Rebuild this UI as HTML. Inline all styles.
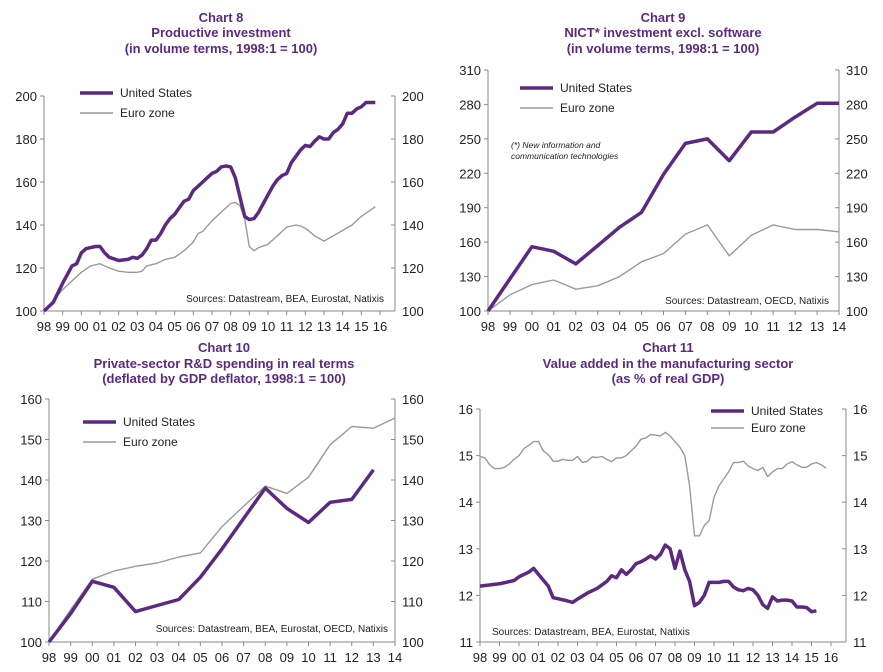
<!DOCTYPE html>
<html><head><meta charset="utf-8"><style>
body{margin:0;background:#fff;}
svg{display:block;font-family:"Liberation Sans",Arial,sans-serif;}
.t{fill:#5b2a80;font-weight:bold;font-size:13px;text-anchor:middle;}
.tk{fill:#222;font-size:13px;}
.lg{fill:#222;font-size:12px;}
.src{fill:#222;font-size:10px;}
</style></head><body>
<svg id="s" width="883" height="672" viewBox="0 0 883 672">
<g><text class="t" x="221" y="22">Chart 8</text><text class="t" x="221" y="37">Productive investment</text><text class="t" x="221" y="53">(in volume terms, 1998:1 = 100)</text></g>
<g><text class="t" x="663" y="22">Chart 9</text><text class="t" x="663" y="37">NICT* investment excl. software</text><text class="t" x="663" y="53">(in volume terms, 1998:1 = 100)</text></g>
<g><text class="t" x="224" y="352">Chart 10</text><text class="t" x="224" y="368">Private-sector R&amp;D spending in real terms</text><text class="t" x="224" y="383">(deflated by GDP deflator, 1998:1 = 100)</text></g>
<g><text class="t" x="668" y="352">Chart 11</text><text class="t" x="668" y="368">Value added in the manufacturing sector</text><text class="t" x="668" y="383">(as % of real GDP)</text></g>
<text class="src" x="384" y="302" text-anchor="end">Sources: Datastream, BEA, Eurostat, Natixis</text>
<text class="src" x="829" y="304" text-anchor="end">Sources: Datastream, OECD, Natixis</text>
<text class="src" x="388" y="632" text-anchor="end">Sources: Datastream, BEA, Eurostat, OECD, Natixis</text>
<text class="src" x="492" y="635">Sources: Datastream, BEA, Eurostat, Natixis</text>
<g style="font-size:8.5px;font-style:italic;fill:#222"><text x="511" y="148">(*) New information and</text><text x="511" y="159">communication technologies</text></g>
</svg>
<script>
const c8Years=[98,98.5,99,99.5,99.75,100,100.25,100.5,100.75,101,101.25,101.5,102,102.5,102.75,103,103.25,103.5,103.75,104,104.25,104.5,104.75,105,105.25,105.5,105.75,106,106.25,106.5,106.75,107,107.25,107.5,107.75,108,108.25,108.5,108.75,109,109.25,109.5,109.75,110,110.25,110.5,110.75,111,111.25,111.5,111.75,112,112.25,112.5,112.75,113,113.25,113.5,113.75,114,114.25,114.5,114.75,115,115.25,115.5,115.75];
const c8US=[100,104,113,121,122,127,129,129.5,130,130,127,125,123.5,124,125,124.5,126,129,133,133,136,140,143,145,148,151,152,156,158,160,162,164,165,167,167.5,167,162,153,144,142.5,143,146,150,154,158,161,163,164,169,172,175,177,176.5,179,181,180,180,183,184.5,187,192,192,194,195,197,197,197];
const c8EZYears=[98,98.5,99,99.5,100,100.5,101,101.5,102,102.5,103,103.25,103.5,104,104.5,105,105.5,106,106.25,106.5,107,107.5,108,108.25,108.5,108.75,109,109.25,109.5,110,110.5,111,111.5,111.75,112,112.5,113,113.5,114,114.5,115,115.5,115.75];
const c8EZ=[100,105,110,114,118,121,122,120,118.5,118,118,118.5,121,122,124,125,128,132,136,137,142,146,150,150.5,149,143,130,128,129.5,131,135,139,140,139.5,138.5,135,132.5,135,137.5,140,144,147,148.5];
const c8Ticks=[100,120,140,160,180,200];
const c9Years=[98,99,100,101,102,103,104,105,106,107,108,109,110,111,112,113,114];
const c9US=[100,128,156,152,141,157,173,186,219,246,250,231,256,256,269,281,281];
const c9EZ=[100,114,123,127,119,122,130,143,150,167,175,148,166,175,171,171,169];
const c9Ticks=[100,130,160,190,220,250,280,310];
const c10USYears=[98,99,100,101,102,103,104,105,106,107,108,109,110,111,112,113];
const c10US=[100,107,115,113.5,107.5,109,110.5,116,123,130.5,138,133,129.5,134.5,135.2,142.5];
const c10EZYears=[98,99,100,101,102,103,104,105,106,107,108,109,110,111,112,113,114];
const c10EZ=[100,108,115.5,117.5,118.7,119.5,121,122,128.5,133.5,138.5,136.7,140.7,148.7,153.2,152.8,155.3];
const c10Ticks=[100,110,120,130,140,150,160];
const c11USYears=[98,99,99.75,100,100.5,100.75,101,101.5,101.75,102,102.5,102.75,103,103.5,104,104.5,104.75,105,105.25,105.5,105.75,106,106.25,106.5,106.75,107,107.25,107.5,107.75,108,108.25,108.5,108.75,109,109.25,109.5,109.75,110,110.25,110.5,110.75,111,111.25,111.5,111.75,112,112.25,112.5,112.75,113,113.25,113.5,113.75,114,114.25,114.5,114.75,115,115.25];
const c11US=[12.2,12.25,12.32,12.4,12.5,12.58,12.45,12.2,11.95,11.93,11.88,11.85,11.92,12.05,12.15,12.3,12.42,12.38,12.55,12.45,12.55,12.68,12.72,12.78,12.85,12.78,12.88,13.08,13.0,12.58,12.95,12.55,12.3,11.78,11.85,12.0,12.28,12.28,12.28,12.3,12.3,12.18,12.12,12.1,12.15,12.12,12.0,11.8,11.72,11.97,11.88,11.9,11.9,11.88,11.75,11.75,11.74,11.65,11.67];
const c11EZ=[14.98,14.95,14.8,14.72,14.72,14.75,14.82,14.92,15.0,15.15,15.22,15.3,15.3,15.1,15.02,14.88,14.88,14.92,14.9,14.9,14.98,14.85,14.88,14.97,14.96,14.98,14.92,14.87,14.95,14.95,15.0,15.1,15.2,15.35,15.38,15.45,15.44,15.42,15.5,15.42,15.3,15.18,15.0,14.35,13.28,13.28,13.5,13.6,14.1,14.35,14.5,14.65,14.85,14.85,14.88,14.78,14.72,14.68,14.75,14.55,14.65,14.72,14.72,14.82,14.87,14.8,14.75,14.75,14.82,14.85,14.8,14.73];
const c11EZStart=98, c11EZStep=0.25;
const c11Ticks=[11,12,13,14,15,16];

const NS='http://www.w3.org/2000/svg', S=document.getElementById('s');
function el(tag,a,p){const e=document.createElementNS(NS,tag);for(const k in a)e.setAttribute(k,a[k]);(p||S).appendChild(e);return e;}
function chart(id,cfg){
  const g=el('g',{});
  
  
  const X=y=>cfg.x0+(y-98)*cfg.dx, Y=v=>cfg.yb-(v-cfg.vmin)/(cfg.vmax-cfg.vmin)*(cfg.yb-cfg.yt);
  const ax={stroke:'#8a8a8a','stroke-width':1,fill:'none'};
  const la=el('line',Object.assign({x1:cfg.x0,y1:cfg.yt,x2:cfg.x0,y2:cfg.yb},ax),g);
  
  
  const ra=el('line',Object.assign({x1:cfg.xr,y1:cfg.yt,x2:cfg.xr,y2:cfg.yb},ax),g);
  
  
  const xa=el('line',Object.assign({x1:cfg.x0,y1:cfg.yb,x2:cfg.xr,y2:cfg.yb},ax),g);
  
  
  cfg.ticks.forEach(t=>{
    const y=Y(t);
    el('line',Object.assign({x1:cfg.x0-4,y1:y,x2:cfg.x0,y2:y},ax),g);
    el('line',Object.assign({x1:cfg.xr-4,y1:y,x2:cfg.xr,y2:y},ax),g);
    const a=el('text',{class:'tk',x:cfg.x0-7,y:y+5,'text-anchor':'end'},g);a.textContent=t;
    
    
    const b=el('text',{class:'tk',x:cfg.xr+7,y:y+5},g);b.textContent=t;
    
    
  });
  for(let yr=98;yr<=cfg.yEnd;yr++){
    const x=X(yr);
    el('line',Object.assign({x1:x,y1:cfg.yb,x2:x,y2:cfg.yb+4},ax),g);
    const t=el('text',{class:'tk',x:x,y:cfg.yb+20,'text-anchor':'middle'},g);t.textContent=String(yr%100).padStart(2,'0');
    
    
  }
  const line=(xs,vs,col,w,name)=>{
    const p=el('polyline',{points:vs.map((v,i)=>X(xs[i]).toFixed(1)+','+Y(v).toFixed(1)).join(' '),fill:'none',stroke:col,'stroke-width':w,'stroke-linejoin':'round'},g);
    
    
  };
  line(cfg.ezx,cfg.ez,'#9a9a9a',1.4,'euro-zone-line');
  line(cfg.usx,cfg.us,'#5b2a80',3.5,'united-states-line');
  const lx=cfg.lx,ly=cfg.ly;
  const l1=el('line',{x1:lx,y1:ly,x2:lx+33,y2:ly,stroke:'#5b2a80','stroke-width':3.5},g);
  
  
  const t1=el('text',{class:'lg',x:lx+40,y:ly+4},g);t1.textContent='United States';
  
  
  const l2=el('line',{x1:lx,y1:ly+cfg.lg,x2:lx+33,y2:ly+cfg.lg,stroke:'#9a9a9a','stroke-width':1.4},g);
  
  
  const t2=el('text',{class:'lg',x:lx+40,y:ly+cfg.lg+4},g);t2.textContent='Euro zone';
  
  
}
const c11EZYears=c11EZ.map((v,i)=>c11EZStart+i*c11EZStep);
chart('chart-8',{x0:44,xr:395,dx:(380-44)/18,yt:96,yb:311,vmin:100,vmax:200,ticks:c8Ticks,yEnd:116,usx:c8Years,us:c8US,ezx:c8EZYears,ez:c8EZ,lx:80,ly:93,lg:20});
chart('chart-9',{x0:488,xr:839,dx:(839-488)/16,yt:70,yb:311,vmin:100,vmax:310,ticks:c9Ticks,yEnd:114,usx:c9Years,us:c9US,ezx:c9Years,ez:c9EZ,lx:520,ly:88,lg:20});
chart('chart-10',{x0:49,xr:395,dx:(395-49)/16,yt:399,yb:642,vmin:100,vmax:160,ticks:c10Ticks,yEnd:114,usx:c10USYears,us:c10US,ezx:c10EZYears,ez:c10EZ,lx:83,ly:422,lg:20});
chart('chart-11',{x0:480,xr:846,dx:(831-480)/18,yt:409,yb:642,vmin:11,vmax:16,ticks:c11Ticks,yEnd:116,usx:c11USYears,us:c11US,ezx:c11EZYears,ez:c11EZ,lx:711,ly:411,lg:17});
</script>
</body></html>
